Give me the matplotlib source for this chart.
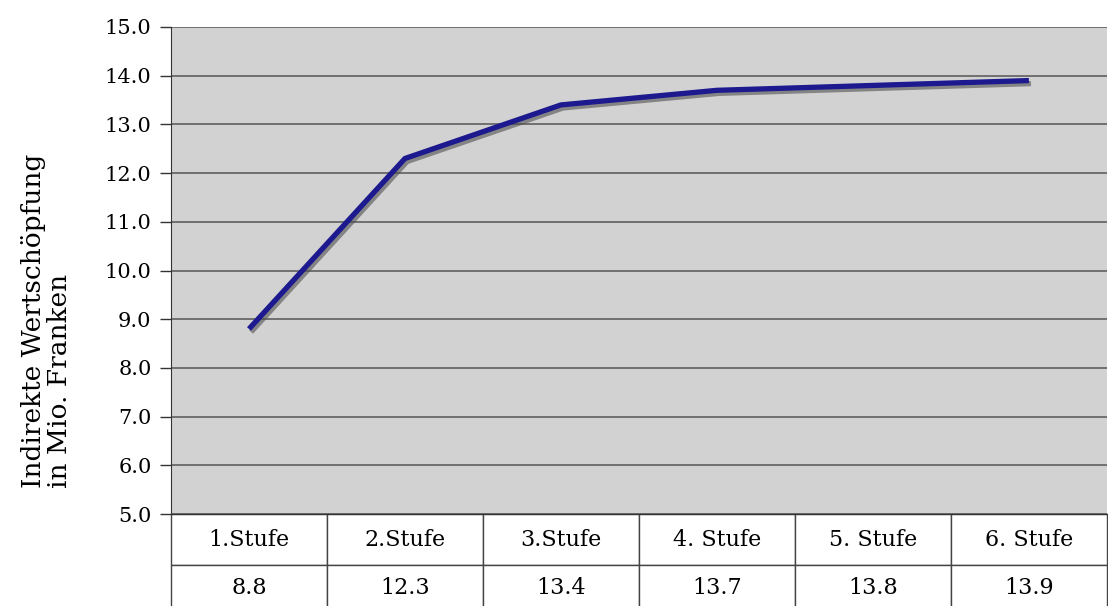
import matplotlib
matplotlib.use("Agg")
import matplotlib.pyplot as plt
import matplotlib.patheffects as pe

categories = ["1.Stufe", "2.Stufe", "3.Stufe", "4. Stufe", "5. Stufe", "6. Stufe"]
values = [8.8, 12.3, 13.4, 13.7, 13.8, 13.9]
value_labels = ["8.8", "12.3", "13.4", "13.7", "13.8", "13.9"]
yticks = [5.0, 6.0, 7.0, 8.0, 9.0, 10.0, 11.0, 12.0, 13.0, 14.0, 15.0]

plt.rcParams['font.family'] = ['DejaVu Serif']

fig = plt.figure(figsize=(11.08, 6.06), dpi=100)
ax = fig.add_axes([171/1108, 92/606, 1 - 171/1108 - 0.001, (514-27)/606])
ax.set_facecolor('#d2d2d2')

x = list(range(len(categories)))
ax.plot(x, values, color='#1c1a8e', lw=3.8, solid_capstyle='butt', zorder=5,
        path_effects=[pe.SimpleLineShadow(offset=(1.5, -2.2), shadow_color='#505050', alpha=0.6),
                      pe.Normal()])

ax.set_xlim(-0.5, len(categories) - 0.5)
ax.set_ylim(5, 15)
ax.set_yticks(yticks)
ax.set_yticklabels([f"{t:.1f}" for t in yticks], fontsize=15)
ax.set_xticks([])
ax.grid(axis='y', color='#555555', lw=1.1)
ax.set_axisbelow(True)
ax.tick_params(axis='y', direction='out', length=8, width=1, color='#333333', pad=6)
for s in ['top', 'right']:
    ax.spines[s].set_visible(False)
ax.spines['left'].set_color('#333333')
ax.spines['bottom'].set_color('#333333')

fig.text(47/1108, (606-488)/606, "Indirekte Wertschöpfung\nin Mio. Franken",
         rotation=90, ha='center', va='bottom', multialignment='left',
         fontsize=19, linespacing=1.05)

tab = ax.table(cellText=[categories, value_labels], cellLoc='center',
               bbox=[0, -98/487, 1, 98/487])
tab.auto_set_font_size(False)
tab.set_fontsize(16)
for (r, c), cell in tab.get_celld().items():
    cell.set_edgecolor('#444444')
    cell.set_linewidth(1.0)
    cell.set_facecolor('white')
    cell.set_height(51 if r == 0 else 47)

fig.savefig("out.png", dpi=100)
